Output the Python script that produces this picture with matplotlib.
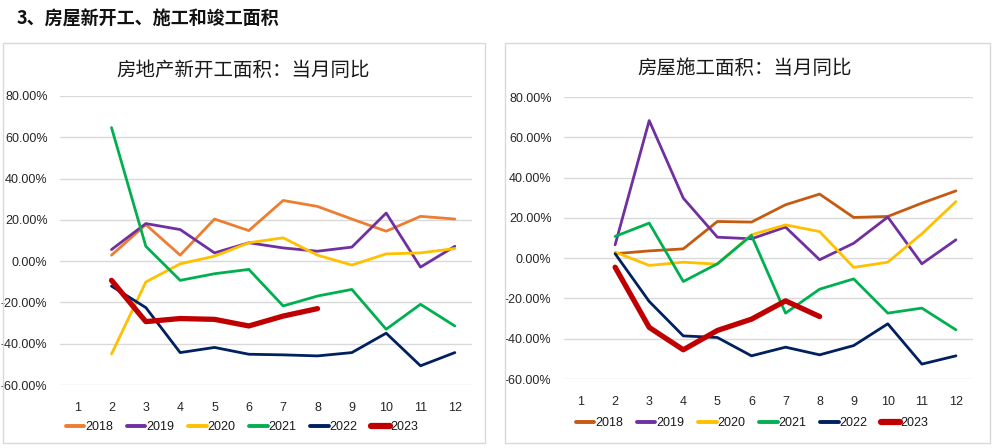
import matplotlib
matplotlib.use("Agg")
import matplotlib.pyplot as plt
from matplotlib.patches import Rectangle
from matplotlib.ticker import FuncFormatter

plt.rcParams['font.family'] = ['Liberation Sans', 'Noto Sans CJK SC', 'DejaVu Sans']

months = list(range(1, 13))
years = ['2018', '2019', '2020', '2021', '2022', '2023']

# 房地产新开工面积：当月同比 (%), months 2..12
new_start = {
    '2018': [2.9, 17.7, 2.9, 20.4, 14.8, 29.4, 26.5, 20.4, 14.5, 21.7, 20.4],
    '2019': [5.6, 18.2, 15.3, 4.0, 8.9, 6.4, 4.8, 6.8, 23.3, -2.9, 7.2],
    '2020': [-45.0, -10.1, -1.3, 2.4, 8.9, 11.3, 2.9, -1.9, 3.5, 4.0, 6.1],
    '2021': [64.7, 7.2, -9.3, -6.1, -4.0, -21.7, -16.9, -13.7, -33.0, -20.9, -31.4],
    '2022': [-12.1, -22.5, -44.3, -41.8, -45.1, -45.4, -45.9, -44.3, -34.9, -50.7, -44.3],
    '2023': [-9.3, -29.3, -27.8, -28.2, -31.4, -26.6, -23.0],
}
# 房屋施工面积：当月同比 (%), months 2..12
under_constr = {
    '2018': [2.2, 3.6, 4.6, 18.2, 17.9, 26.5, 31.8, 20.2, 20.7, 27.3, 33.4],
    '2019': [6.6, 68.3, 29.8, 10.4, 9.6, 15.4, -0.8, 7.4, 20.4, -2.8, 9.1],
    '2020': [3.0, -3.6, -2.0, -3.0, 11.6, 16.5, 13.2, -4.6, -2.0, 12.1, 28.1],
    '2021': [10.8, 17.4, -11.6, -2.8, 11.3, -27.3, -15.4, -10.3, -27.3, -24.8, -35.6],
    '2022': [2.2, -21.5, -38.6, -39.4, -48.5, -44.2, -48.0, -43.4, -32.6, -52.6, -48.5],
    '2023': [-4.5, -34.4, -45.5, -35.9, -30.3, -21.2, -29.0],
}

title_left = '房地产新开工面积：当月同比'
title_right = '房屋施工面积：当月同比'
header = '3、房屋新开工、施工和竣工面积'

colors_left = {'2018': '#ED7D31', '2019': '#7030A0', '2020': '#FFC000',
               '2021': '#00B050', '2022': '#002060', '2023': '#C00000'}
colors_right = dict(colors_left)
colors_right['2018'] = '#C55A11'

W, H = 997, 448
fig = plt.figure(figsize=(W / 100, H / 100), dpi=100)


def px(x0, y0, x1, y1):
    return [x0 / W, 1 - y1 / H, (x1 - x0) / W, (y1 - y0) / H]


# panel borders
for (x0, y0, x1, y1) in [(3, 43, 485, 443), (505, 43, 990, 443)]:
    fig.patches.append(Rectangle((x0 / W, 1 - y1 / H), (x1 - x0) / W, (y1 - y0) / H,
                                 transform=fig.transFigure, fill=False,
                                 edgecolor='#D9D9D9', linewidth=1.0))

fig.text(17 / W, 1 - 19 / H, header, fontsize=13, fontweight='bold',
         family=['Noto Sans CJK SC', 'DejaVu Sans'], va='center', ha='left',
         color='#111111')


def draw(rect, data, colors, title, title_xy, legend_y, legend_x):
    ax = fig.add_axes(px(*rect))
    for y in years:
        vals = data[y]
        xs = months[1:1 + len(vals)]
        lw = 3.8 if y == '2023' else 2.0
        ax.plot(xs, vals, color=colors[y], linewidth=lw, label=y,
                solid_capstyle='round', solid_joinstyle='round', zorder=3)
    ax.set_xlim(0.5, 12.5)
    ax.set_ylim(-60, 80)
    ax.set_yticks(range(-60, 81, 20))
    ax.yaxis.set_major_formatter(FuncFormatter(lambda v, p: f'{v:.2f}%'))
    ax.set_xticks(months)
    ax.grid(axis='y', color='#D9D9D9', linewidth=1.0, zorder=0)
    for s in ax.spines.values():
        s.set_visible(False)
    ax.tick_params(axis='both', length=0, labelsize=9, colors='#262626')
    ax.tick_params(axis='y', pad=9)
    ax.tick_params(axis='x', pad=12)
    fig.text(title_xy[0] / W, 1 - title_xy[1] / H, title, fontsize=14,
             family=['Noto Sans CJK SC', 'DejaVu Sans'], ha='center', va='center',
             color='#1a1a1a')
    handles, labels = ax.get_legend_handles_labels()
    leg = fig.legend(handles, labels, loc='center',
                     bbox_to_anchor=(legend_x / W, 1 - legend_y / H), ncol=6,
                     frameon=False, fontsize=9, handlelength=1.5,
                     handletextpad=0.05, columnspacing=1.1)
    for t in leg.get_texts():
        t.set_color('#1a1a1a')
    for ln, lab in zip(leg.get_lines(), labels):
        ln.set_solid_capstyle('round')
        ln.set_linewidth(4.5 if lab == '2023' else 2.8)
    return ax


draw((60, 96, 472, 385), new_start, colors_left, title_left, (243, 70), 427, 242)
draw((564, 97, 973, 379), under_constr, colors_right, title_right, (745, 68), 423, 752)

fig.savefig('out.png', dpi=100)
